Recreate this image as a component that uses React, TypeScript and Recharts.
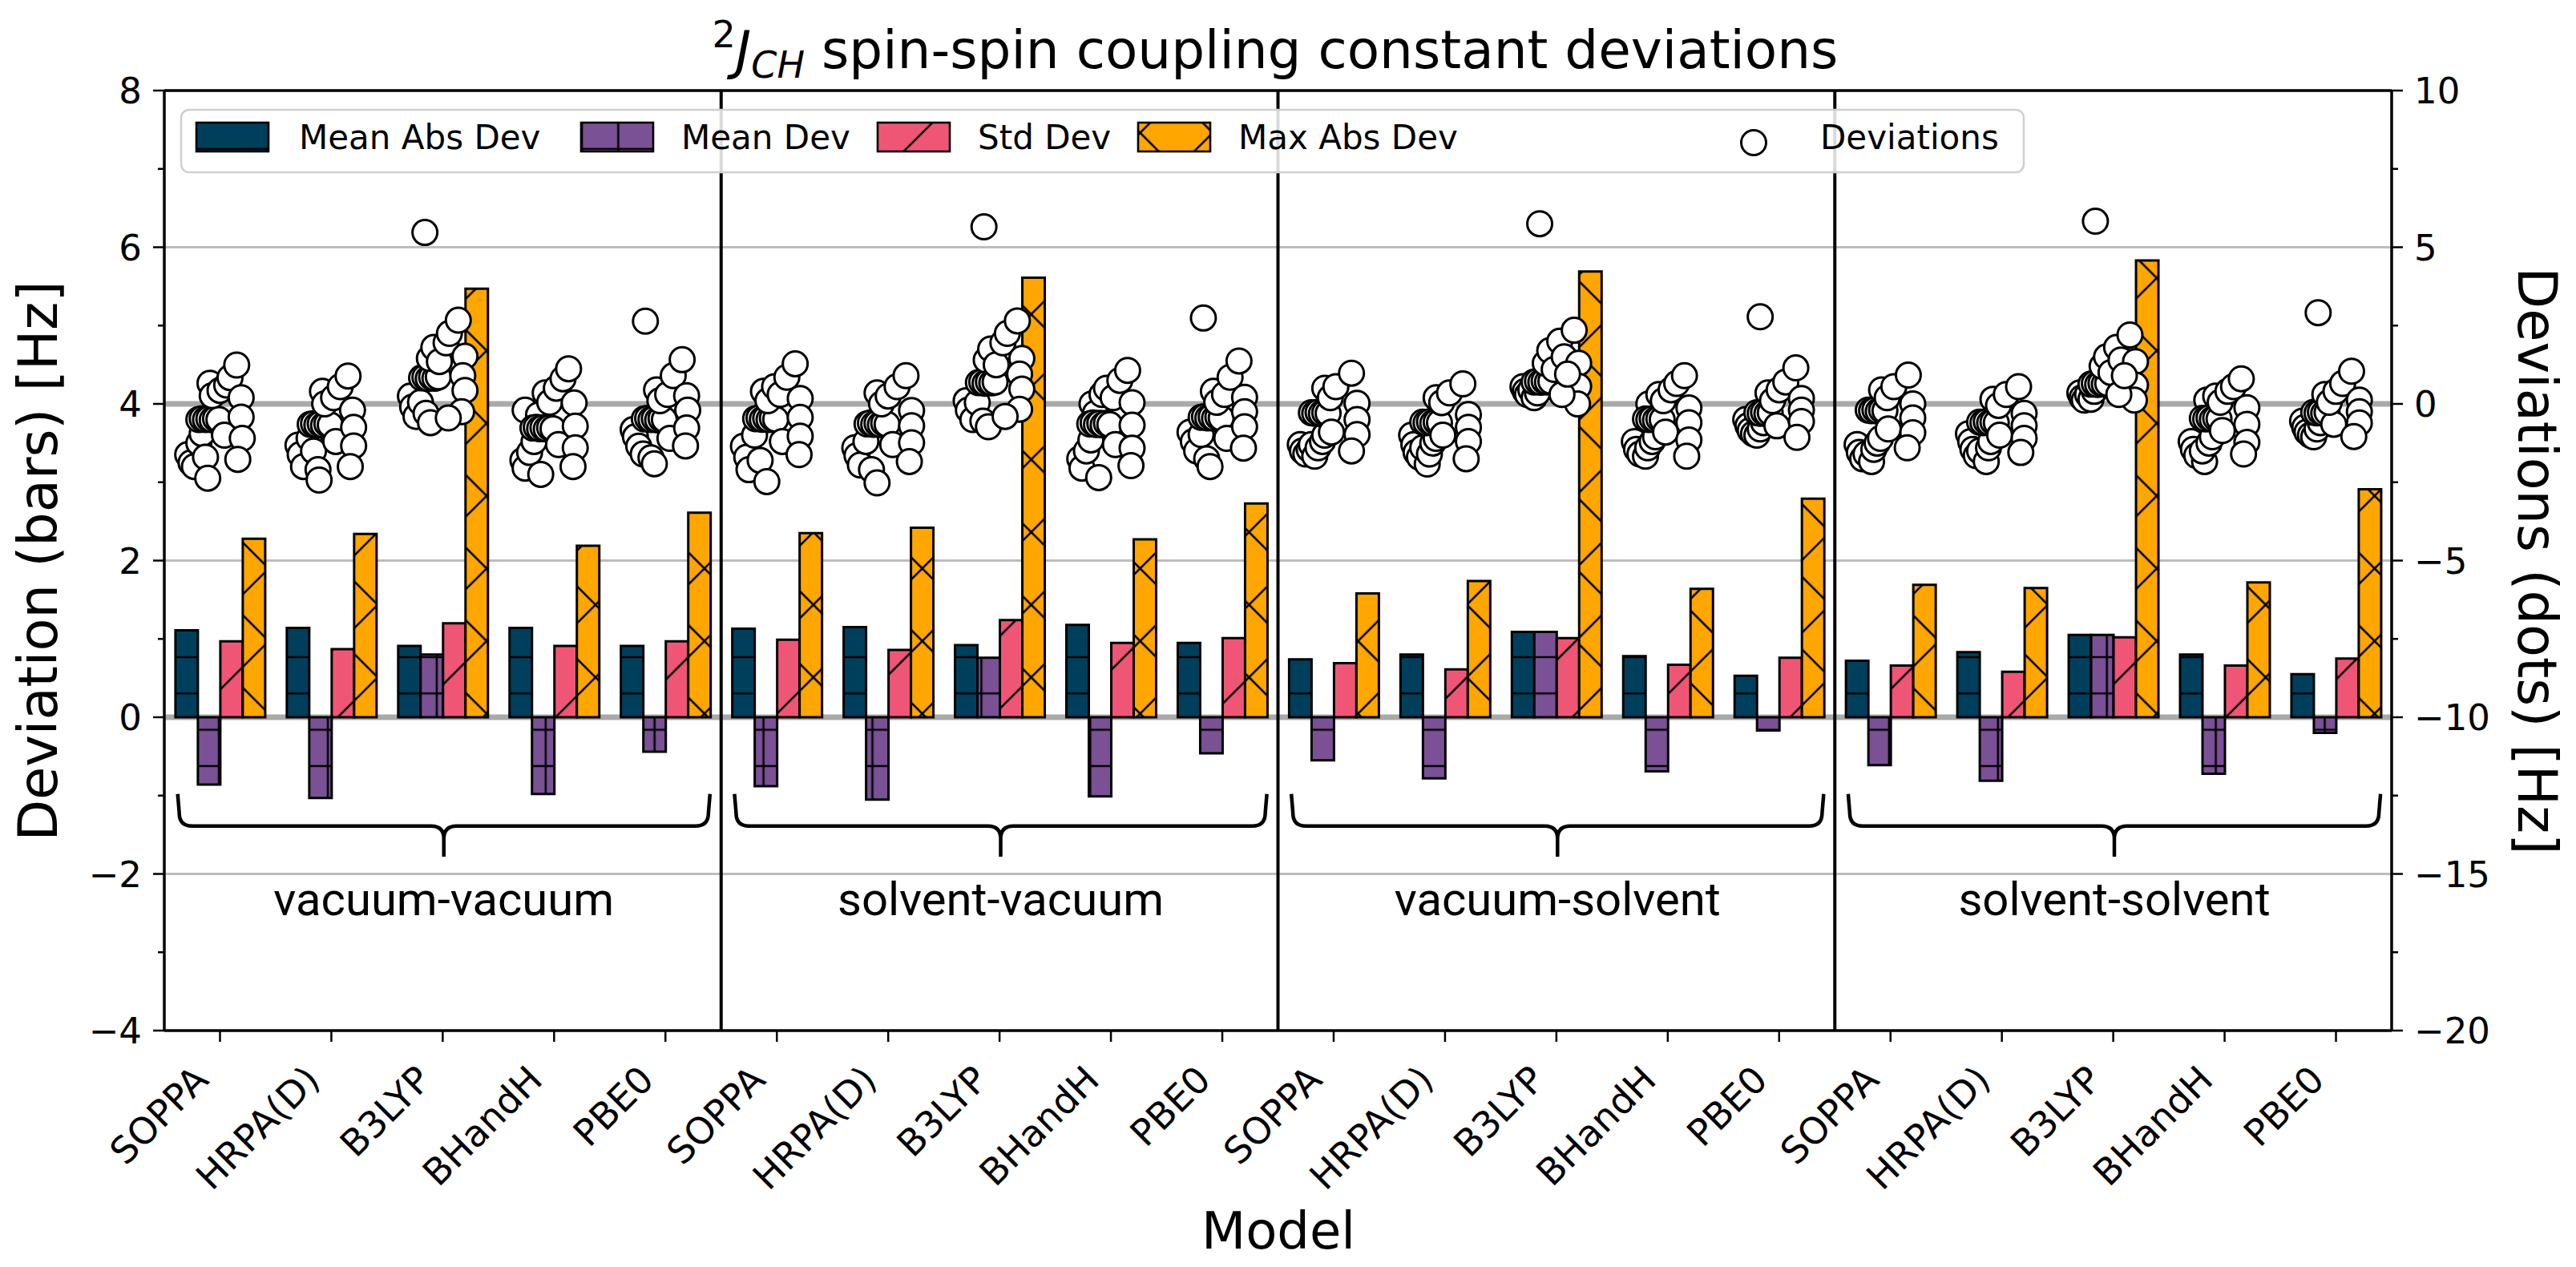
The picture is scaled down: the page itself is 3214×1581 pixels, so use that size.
import React from 'react';
import {
  ComposedChart,
  Bar,
  Scatter,
  XAxis,
  YAxis,
  ReferenceLine,
  ReferenceArea,
} from 'recharts';

// Five models, repeated for each of the four solvent set-ups
const models = ['SOPPA', 'HRPA(D)', 'B3LYP', 'BHandH', 'PBE0'];
const groups = ['vacuum-vacuum', 'solvent-vacuum', 'vacuum-solvent', 'solvent-solvent'];

// Bar series, left axis [Hz]
const meanAbsDev = [1.11, 1.14, 0.91, 1.14, 0.91, 1.13, 1.15, 0.92, 1.18, 0.95, 0.74, 0.8, 1.09, 0.78, 0.53, 0.72, 0.83, 1.05, 0.8, 0.55];
const meanDev = [-0.86, -1.03, 0.8, -0.98, -0.44, -0.88, -1.05, 0.76, -1.01, -0.46, -0.55, -0.78, 1.09, -0.69, -0.17, -0.61, -0.81, 1.05, -0.72, -0.2];
const stdDev = [0.97, 0.87, 1.2, 0.91, 0.97, 0.99, 0.86, 1.24, 0.95, 1.01, 0.69, 0.61, 1.01, 0.67, 0.76, 0.66, 0.58, 1.02, 0.66, 0.75];
const maxAbsDev = [2.28, 2.34, 5.47, 2.19, 2.61, 2.35, 2.42, 5.61, 2.27, 2.73, 1.58, 1.74, 5.69, 1.64, 2.79, 1.69, 1.65, 5.83, 1.72, 2.91];

// Dot series, right axis [Hz]: [offset from category centre, deviation]
const deviations: [number, number][][] = [
  // vacuum-vacuum
  [[-0.29, -1.62], [-0.26, -1.88], [-0.23, -2.0], [-0.19, -1.25], [-0.16, -0.95], [-0.13, -1.7], [-0.11, -2.37], [-0.19, -0.5], [-0.16, -0.47], [-0.13, -0.5], [-0.1, -0.48], [-0.07, -0.51], [-0.04, -0.47], [-0.01, -0.5], [-0.09, 0.66], [-0.07, 0.26], [0.0, 0.43], [0.04, -1.0], [0.06, 0.6], [0.09, 0.84], [0.15, 1.24], [0.19, 0.2], [0.19, -0.42], [0.2, -1.1], [0.16, -1.77]],
  [[-0.3, -1.32], [-0.28, -1.62], [-0.25, -2.0], [-0.2, -1.1], [-0.16, -1.5], [-0.12, -2.1], [-0.11, -2.43], [-0.19, -0.65], [-0.16, -0.63], [-0.13, -0.67], [-0.1, -0.64], [-0.07, -0.68], [-0.04, -0.64], [-0.01, -0.67], [-0.08, 0.4], [-0.06, 0.0], [0.02, 0.2], [0.04, -1.2], [0.08, 0.55], [0.15, 0.89], [0.19, -0.2], [0.2, -0.75], [0.2, -1.34], [0.17, -2.0]],
  [[-0.16, 5.47], [-0.29, 0.25], [-0.27, -0.1], [-0.24, -0.4], [-0.2, 0.05], [-0.15, -0.3], [-0.11, -0.6], [-0.19, 0.83], [-0.16, 0.85], [-0.13, 0.81], [-0.1, 0.85], [-0.07, 0.82], [-0.04, 0.86], [-0.12, 1.45], [-0.08, 1.8], [-0.03, 1.35], [0.03, 1.95], [0.06, 2.25], [0.14, 2.67], [0.2, 1.52], [0.18, 0.9], [0.2, 0.43], [0.17, -0.25], [0.05, -0.45]],
  [[-0.26, -0.2], [-0.28, -1.8], [-0.26, -2.05], [-0.22, -1.55], [-0.18, -1.2], [-0.12, -2.25], [-0.14, -0.35], [-0.19, -0.77], [-0.16, -0.75], [-0.13, -0.79], [-0.1, -0.76], [-0.07, -0.8], [-0.04, -0.76], [-0.01, -0.79], [-0.08, 0.35], [-0.04, 0.05], [0.02, 0.5], [0.04, -1.3], [0.08, 0.8], [0.13, 1.12], [0.18, 0.03], [0.19, -0.71], [0.19, -1.4], [0.17, -2.0]],
  [[-0.18, 2.64], [-0.29, -0.82], [-0.27, -1.05], [-0.24, -1.35], [-0.2, -1.6], [-0.13, -1.72], [-0.1, -1.91], [-0.19, -0.48], [-0.16, -0.46], [-0.13, -0.5], [-0.1, -0.47], [-0.07, -0.51], [-0.04, -0.47], [-0.01, -0.5], [-0.08, 0.45], [-0.05, 0.1], [0.02, 0.3], [0.04, -1.1], [0.07, 0.9], [0.15, 1.41], [0.19, 0.26], [0.2, -0.2], [0.19, -0.77], [0.18, -1.34]],
  // solvent-vacuum
  [[-0.3, -1.35], [-0.27, -1.7], [-0.25, -2.1], [-0.2, -1.0], [-0.15, -1.8], [-0.09, -2.48], [-0.19, -0.47], [-0.16, -0.45], [-0.13, -0.49], [-0.1, -0.46], [-0.07, -0.5], [-0.04, -0.46], [-0.01, -0.49], [-0.12, 0.4], [-0.08, 0.1], [-0.02, 0.55], [0.03, 0.3], [0.05, -1.2], [0.09, 0.85], [0.165, 1.28], [0.21, 0.17], [0.21, -0.43], [0.21, -1.03], [0.2, -1.62]],
  [[-0.3, -1.4], [-0.28, -1.65], [-0.25, -1.95], [-0.2, -1.2], [-0.15, -2.1], [-0.1, -2.52], [-0.19, -0.64], [-0.16, -0.61], [-0.13, -0.65], [-0.1, -0.62], [-0.07, -0.66], [-0.04, -0.62], [-0.01, -0.65], [-0.1, 0.35], [-0.06, 0.0], [0.0, 0.25], [0.04, -1.3], [0.08, 0.55], [0.16, 0.9], [0.21, -0.21], [0.21, -0.7], [0.21, -1.24], [0.19, -1.84]],
  [[-0.14, 5.65], [-0.3, 0.1], [-0.28, -0.2], [-0.24, -0.5], [-0.2, 0.04], [-0.15, -0.55], [-0.1, -0.73], [-0.19, 0.68], [-0.16, 0.7], [-0.13, 0.66], [-0.1, 0.7], [-0.07, 0.67], [-0.04, 0.7], [-0.12, 1.4], [-0.08, 1.75], [-0.03, 1.25], [0.03, 1.95], [0.07, 2.25], [0.16, 2.65], [0.2, 1.45], [0.18, 0.95], [0.2, 0.47], [0.18, -0.17], [0.05, -0.4]],
  [[-0.17, 0.0], [-0.28, -1.75], [-0.26, -2.05], [-0.22, -1.5], [-0.18, -1.15], [-0.11, -2.35], [-0.14, -0.3], [-0.19, -0.64], [-0.16, -0.61], [-0.13, -0.66], [-0.1, -0.62], [-0.07, -0.67], [-0.04, -0.62], [-0.01, -0.66], [-0.08, 0.3], [-0.04, 0.5], [0.02, 0.2], [0.04, -1.3], [0.08, 0.75], [0.15, 1.07], [0.19, 0.04], [0.19, -0.68], [0.19, -1.41], [0.18, -1.97]],
  [[-0.17, 2.74], [-0.29, -0.9], [-0.26, -1.2], [-0.23, -1.5], [-0.19, -0.98], [-0.14, -1.75], [-0.11, -2.0], [-0.19, -0.43], [-0.16, -0.41], [-0.13, -0.45], [-0.1, -0.42], [-0.07, -0.46], [-0.04, -0.42], [-0.01, -0.45], [-0.08, 0.4], [-0.05, 0.05], [0.02, 0.3], [0.04, -1.1], [0.07, 0.85], [0.15, 1.37], [0.2, 0.21], [0.2, -0.25], [0.2, -0.73], [0.19, -1.41]],
  // vacuum-solvent
  [[-0.3, -1.3], [-0.28, -1.5], [-0.25, -1.6], [-0.22, -1.45], [-0.2, -1.3], [-0.17, -1.67], [-0.14, -1.4], [-0.1, -1.2], [-0.08, -1.0], [-0.2, -0.28], [-0.17, -0.3], [-0.14, -0.27], [-0.11, -0.31], [-0.08, -0.28], [-0.05, -0.3], [-0.02, -0.9], [-0.08, 0.5], [-0.03, 0.2], [0.02, 0.55], [0.16, 0.98], [0.21, 0.02], [0.21, -0.5], [0.21, -0.98], [0.16, -1.5]],
  [[-0.3, -1.0], [-0.28, -1.3], [-0.26, -1.55], [-0.23, -1.7], [-0.2, -1.4], [-0.16, -1.92], [-0.14, -1.6], [-0.11, -1.25], [-0.08, -1.1], [-0.2, -0.58], [-0.17, -0.6], [-0.14, -0.57], [-0.11, -0.61], [-0.08, -0.58], [-0.05, -0.6], [-0.02, -1.0], [-0.08, 0.2], [-0.03, 0.04], [0.04, 0.35], [0.16, 0.64], [0.21, -0.34], [0.21, -0.75], [0.21, -1.2], [0.19, -1.75]],
  [[-0.15, 5.75], [-0.3, 0.55], [-0.28, 0.4], [-0.26, 0.3], [-0.23, 0.45], [-0.2, 0.2], [-0.17, 0.35], [-0.2, 0.7], [-0.17, 0.72], [-0.14, 0.69], [-0.11, 0.73], [-0.08, 0.7], [-0.05, 0.72], [-0.1, 1.3], [-0.06, 1.7], [-0.02, 1.1], [0.03, 2.0], [0.07, 1.5], [0.16, 2.35], [0.2, 1.3], [0.2, 0.56], [0.19, 0.0], [0.05, 0.3], [0.1, 0.95]],
  [[-0.17, 0.0], [-0.3, -1.2], [-0.28, -1.45], [-0.25, -1.6], [-0.2, -1.67], [-0.18, -1.4], [-0.14, -1.2], [-0.11, -1.05], [-0.2, -0.48], [-0.17, -0.5], [-0.14, -0.47], [-0.11, -0.51], [-0.08, -0.48], [-0.05, -0.5], [-0.02, -0.9], [-0.08, 0.3], [-0.04, 0.1], [0.03, 0.45], [0.08, 0.65], [0.15, 0.9], [0.19, -0.13], [0.19, -0.6], [0.19, -1.15], [0.17, -1.67]],
  [[-0.17, 2.78], [-0.3, -0.5], [-0.28, -0.7], [-0.26, -0.85], [-0.23, -0.95], [-0.2, -1.0], [-0.17, -0.8], [-0.14, -0.6], [-0.2, -0.28], [-0.17, -0.3], [-0.14, -0.27], [-0.11, -0.31], [-0.08, -0.28], [-0.02, -0.7], [-0.1, 0.35], [-0.06, 0.1], [0.0, 0.45], [0.06, 0.7], [0.15, 1.15], [0.2, 0.17], [0.2, -0.2], [0.2, -0.56], [0.16, -1.07]],
  // solvent-solvent
  [[-0.3, -1.3], [-0.28, -1.55], [-0.25, -1.75], [-0.22, -1.6], [-0.17, -1.84], [-0.15, -1.45], [-0.12, -1.25], [-0.09, -1.1], [-0.2, -0.2], [-0.17, -0.22], [-0.14, -0.19], [-0.11, -0.23], [-0.08, -0.2], [-0.05, -0.22], [-0.02, -0.8], [-0.08, 0.45], [-0.03, 0.2], [0.03, 0.55], [0.16, 0.92], [0.2, 0.0], [0.2, -0.45], [0.2, -0.92], [0.15, -1.4]],
  [[-0.3, -0.95], [-0.28, -1.2], [-0.26, -1.45], [-0.23, -1.65], [-0.2, -1.5], [-0.14, -1.84], [-0.12, -1.4], [-0.1, -1.2], [-0.2, -0.58], [-0.17, -0.6], [-0.14, -0.57], [-0.11, -0.61], [-0.08, -0.58], [-0.05, -0.6], [-0.02, -1.0], [-0.08, 0.15], [-0.03, -0.05], [0.04, 0.3], [0.15, 0.55], [0.2, -0.3], [0.2, -0.7], [0.2, -1.1], [0.17, -1.55]],
  [[-0.16, 5.83], [-0.3, 0.35], [-0.28, 0.2], [-0.26, 0.12], [-0.23, 0.3], [-0.2, 0.15], [-0.17, 0.4], [-0.2, 0.63], [-0.17, 0.65], [-0.14, 0.62], [-0.11, 0.66], [-0.08, 0.63], [-0.05, 0.65], [-0.1, 1.2], [-0.06, 1.5], [-0.02, 1.0], [0.03, 1.8], [0.07, 1.4], [0.15, 2.2], [0.2, 1.35], [0.2, 0.6], [0.19, 0.12], [0.05, 0.3], [0.1, 0.9]],
  [[-0.16, 0.12], [-0.3, -1.2], [-0.28, -1.45], [-0.25, -1.65], [-0.18, -1.84], [-0.2, -1.5], [-0.14, -1.25], [-0.11, -1.05], [-0.2, -0.46], [-0.17, -0.48], [-0.14, -0.45], [-0.11, -0.49], [-0.08, -0.46], [-0.05, -0.48], [-0.02, -0.85], [-0.08, 0.25], [-0.04, 0.05], [0.03, 0.4], [0.08, 0.55], [0.15, 0.8], [0.2, -0.12], [0.2, -0.65], [0.2, -1.23], [0.17, -1.6]],
  [[-0.16, 2.91], [-0.3, -0.55], [-0.28, -0.75], [-0.26, -0.9], [-0.23, -1.0], [-0.2, -1.05], [-0.17, -0.8], [-0.14, -0.6], [-0.2, -0.27], [-0.17, -0.29], [-0.14, -0.26], [-0.11, -0.3], [-0.08, -0.27], [-0.02, -0.65], [-0.1, 0.3], [-0.06, 0.05], [0.0, 0.4], [0.06, 0.65], [0.14, 1.04], [0.21, 0.12], [0.21, -0.25], [0.21, -0.61], [0.16, -1.04]],
];

// Axis ticks
const leftTicks = [8, 7, 6, 5, 4, 3, 2, 1, 0, -1, -2, -3, -4];
const leftLabels = [8, 6, 4, 2, 0, -2, -4];
const rightTicks = [10, 7.5, 5, 2.5, 0, -2.5, -5, -7.5, -10, -12.5, -15, -17.5, -20];
const rightLabels = [10, 5, 0, -5, -10, -15, -20];
const gridThin = [6, 2, -2];
const gridThick = [4, 0];
const separators = [4.5, 9.5, 14.5];
const braceFrom = [-0.38, 4.62, 9.62, 14.62];
const braceTo = [4.4, 9.4, 14.4, 19.4];
const braceTop = -0.98;
const braceTip = -1.78;

const COLORS = { mad: '#003f5c', md: '#7a5195', std: '#ef5675', max: '#ffa600' };
const FONT = 'DejaVu Sans';
const NOTE_FONT = 'Roboto';

const categories = groups.flatMap(() => models);
const barData = categories.map((name, i) => ({
  name,
  mad: meanAbsDev[i],
  md: meanDev[i],
  std: stdDev[i],
  max: maxAbsDev[i],
}));
const dotData = deviations.flatMap((pts, i) => pts.map(([dx, v]) => ({ x: i + dx, y: v })));

const fmt = (v: number) => (v < 0 ? '\u2212' + Math.abs(v) : String(v));

// hatch spacing (px)
const P = 45.3;
const D = 90.6;

function Hatches() {
  return (
    <defs>
      <pattern id="hatch-mad" patternUnits="userSpaceOnUse" x={0} y={4.6 - P / 2} width={P} height={P}>
        <rect width={P} height={P} fill={COLORS.mad} />
        <line x1={0} x2={P} y1={P / 2} y2={P / 2} stroke="#000" strokeWidth={2.6} />
      </pattern>
      <pattern id="hatch-md" patternUnits="userSpaceOnUse" x={1.3 - P / 2} y={4.6 - P / 2} width={P} height={P}>
        <rect width={P} height={P} fill={COLORS.md} />
        <line x1={0} x2={P} y1={P / 2} y2={P / 2} stroke="#000" strokeWidth={2.6} />
        <line x1={P / 2} x2={P / 2} y1={0} y2={P} stroke="#000" strokeWidth={2.6} />
      </pattern>
      <pattern id="hatch-std" patternUnits="userSpaceOnUse" x={48} y={0} width={D} height={D}>
        <rect width={D} height={D} fill={COLORS.std} />
        <path
          d={`M-6,${D + 6} L${D + 6},-6 M-6,6 L6,-6 M${D - 6},${D + 6} L${D + 6},${D - 6}`}
          stroke="#000"
          strokeWidth={2.6}
        />
      </pattern>
      <pattern id="hatch-max" patternUnits="userSpaceOnUse" x={48} y={0} width={D} height={D}>
        <rect width={D} height={D} fill={COLORS.max} />
        <path
          d={`M-6,${D + 6} L${D + 6},-6 M-6,6 L6,-6 M${D - 6},${D + 6} L${D + 6},${D - 6} M25,-6 L${D + 6},${D - 25} M-6,${D - 37} L37,${D + 6}`}
          stroke="#000"
          strokeWidth={2.6}
        />
      </pattern>
    </defs>
  );
}

function LeftTick(props: any) {
  const { x, y, payload } = props;
  const major = leftLabels.includes(payload.value);
  return (
    <g>
      <line x1={x - (major ? 14 : 8)} x2={x} y1={y} y2={y} stroke="#000" strokeWidth={2.5} />
      {major && (
        <text x={x - 28} y={y} dy="0.36em" textAnchor="end" fontFamily={FONT} fontSize={45} fill="#000">
          {fmt(payload.value)}
        </text>
      )}
    </g>
  );
}

function RightTick(props: any) {
  const { x, y, payload } = props;
  const major = rightLabels.includes(payload.value);
  return (
    <g>
      <line x1={x} x2={x + (major ? 14 : 8)} y1={y} y2={y} stroke="#000" strokeWidth={2.5} />
      {major && (
        <text x={x + 28} y={y} dy="0.36em" textAnchor="start" fontFamily={FONT} fontSize={45} fill="#000">
          {fmt(payload.value)}
        </text>
      )}
    </g>
  );
}

function BottomTick(props: any) {
  const { x, y, payload } = props;
  return (
    <g>
      <line x1={x} x2={x} y1={y} y2={y + 14} stroke="#000" strokeWidth={2.5} />
      <text
        transform={`translate(${x - 12}, ${y + 64}) rotate(-45)`}
        textAnchor="end"
        fontFamily={FONT}
        fontSize={46}
        fill="#000"
      >
        {payload.value}
      </text>
    </g>
  );
}

function Brace(props: any) {
  const { x, y, width, height, label } = props;
  const x2 = x + width;
  const mid = y + height * 0.51;
  const cx = x + width / 2;
  const r = 16;
  const d =
    `M${x},${y} L${x + 2},${mid - r} Q${x + 2},${mid} ${x + 2 + r},${mid} L${cx - r},${mid} ` +
    `Q${cx},${mid} ${cx},${mid + r} L${cx},${y + height} ` +
    `M${x2},${y} L${x2 - 2},${mid - r} Q${x2 - 2},${mid} ${x2 - 2 - r},${mid} L${cx + r},${mid} ` +
    `Q${cx},${mid} ${cx},${mid + r}`;
  return (
    <g>
      <path d={d} fill="none" stroke="#000" strokeWidth={4.5} strokeLinejoin="round" />
      <text x={cx} y={y + height + 73} textAnchor="middle" fontFamily={NOTE_FONT} fontSize={58} fill="#000">
        {label}
      </text>
    </g>
  );
}

function Dot(props: any) {
  const { cx, cy } = props;
  if (cx == null || cy == null) return null;
  return <circle cx={cx} cy={cy} r={15.5} fill="#fff" stroke="#000" strokeWidth={3} />;
}

const legendItems = [
  { label: 'Mean Abs Dev', fill: 'url(#hatch-mad)', px: 245, tx: 373 },
  { label: 'Mean Dev', fill: 'url(#hatch-md)', px: 725, tx: 850 },
  { label: 'Std Dev', fill: 'url(#hatch-std)', px: 1095, tx: 1220 },
  { label: 'Max Abs Dev', fill: 'url(#hatch-max)', px: 1420, tx: 1545 },
];

function Overlay() {
  return (
    <svg
      width={3214}
      height={1581}
      style={{ position: 'absolute', left: 0, top: 0, pointerEvents: 'none' }}
    >
      <Hatches />
      {/* title */}
      <text x={1591} y={85} textAnchor="middle" fontFamily={FONT} fontSize={66} fill="#000" style={{ whiteSpace: 'pre' }}>
        <tspan fontSize={46} dy={-26}>2</tspan>
        <tspan fontStyle="italic" dy={26}>J</tspan>
        <tspan fontStyle="italic" fontSize={46} dy={12}>CH</tspan>
        <tspan dy={-12}> spin-spin coupling constant deviations</tspan>
      </text>
      {/* axis titles */}
      <text transform="translate(71, 700) rotate(-90)" textAnchor="middle" fontFamily={FONT} fontSize={67} fill="#000">
        Deviation (bars) [Hz]
      </text>
      <text transform="translate(3142, 700) rotate(90)" textAnchor="middle" fontFamily={FONT} fontSize={67} fill="#000">
        Deviations (dots) [Hz]
      </text>
      <text x={1595} y={1558} textAnchor="middle" fontFamily={FONT} fontSize={64} fill="#000">
        Model
      </text>
      {/* legend */}
      <rect x={226} y={137} width={2299} height={78} rx={10} fill="#fff" fillOpacity={0.85} stroke="#d0d0d0" strokeWidth={2.5} />
      {legendItems.map((it) => (
        <g key={it.label}>
          <rect x={it.px} y={153} width={90} height={36} fill={it.fill} stroke="#000" strokeWidth={2.6} />
          <text x={it.tx} y={186} fontFamily={FONT} fontSize={42} fill="#000">
            {it.label}
          </text>
        </g>
      ))}
      <circle cx={2188} cy={178} r={15.5} fill="#fff" stroke="#000" strokeWidth={3} />
      <text x={2271} y={186} fontFamily={FONT} fontSize={42} fill="#000">
        Deviations
      </text>
    </svg>
  );
}

export default function App() {
  return (
    <div style={{ position: 'absolute', left: 0, top: 0, width: 3214, height: 1581, background: '#fff' }}>
      <ComposedChart
        width={3214}
        height={1581}
        data={barData}
        margin={{ top: 113, right: 110, bottom: 175, left: 85 }}
        barCategoryGap="10%"
        barGap={0}
      >
        <XAxis
          xAxisId="cat"
          dataKey="name"
          interval={0}
          height={120}
          tickSize={0}
          tickMargin={0}
          tickLine={false}
          tick={<BottomTick />}
          axisLine={{ stroke: '#000', strokeWidth: 3.5 }}
        />
        <XAxis xAxisId="num" type="number" dataKey="x" domain={[-0.5, 19.5]} allowDataOverflow hide />
        <YAxis
          yAxisId="left"
          type="number"
          domain={[-4, 8]}
          ticks={leftTicks}
          interval={0}
          allowDataOverflow
          width={120}
          tickSize={0}
          tickMargin={0}
          tickLine={false}
          tick={<LeftTick />}
          axisLine={{ stroke: '#000', strokeWidth: 3.5 }}
        />
        <YAxis
          yAxisId="right"
          orientation="right"
          type="number"
          domain={[-20, 10]}
          ticks={rightTicks}
          interval={0}
          allowDataOverflow
          width={120}
          tickSize={0}
          tickMargin={0}
          tickLine={false}
          tick={<RightTick />}
          axisLine={{ stroke: '#000', strokeWidth: 3.5 }}
        />

        {gridThin.map((v) => (
          <ReferenceLine key={'g' + v} xAxisId="cat" yAxisId="left" y={v} stroke="#bdbdbd" strokeWidth={3} zIndex={-100} />
        ))}
        {gridThick.map((v) => (
          <ReferenceLine key={'t' + v} xAxisId="cat" yAxisId="left" y={v} stroke="#a9a9a9" strokeWidth={7} zIndex={-100} />
        ))}
        <ReferenceLine xAxisId="cat" yAxisId="left" y={8} stroke="#000" strokeWidth={3.5} />
        {separators.map((v) => (
          <ReferenceLine key={'s' + v} xAxisId="num" yAxisId="left" x={v} stroke="#000" strokeWidth={4} />
        ))}
        {groups.map((g, i) => (
          <ReferenceArea
            key={g}
            xAxisId="num"
            yAxisId="left"
            x1={braceFrom[i]}
            x2={braceTo[i]}
            y1={braceTop}
            y2={braceTip}
            shape={(p: any) => <Brace {...p} label={g} />}
          />
        ))}

        <Bar xAxisId="cat" yAxisId="left" dataKey="mad" name="Mean Abs Dev" fill="url(#hatch-mad)" stroke="#000" strokeWidth={3} isAnimationActive={false} />
        <Bar xAxisId="cat" yAxisId="left" dataKey="md" name="Mean Dev" fill="url(#hatch-md)" stroke="#000" strokeWidth={3} isAnimationActive={false} />
        <Bar xAxisId="cat" yAxisId="left" dataKey="std" name="Std Dev" fill="url(#hatch-std)" stroke="#000" strokeWidth={3} isAnimationActive={false} />
        <Bar xAxisId="cat" yAxisId="left" dataKey="max" name="Max Abs Dev" fill="url(#hatch-max)" stroke="#000" strokeWidth={3} isAnimationActive={false} />

        <Scatter
          xAxisId="num"
          yAxisId="right"
          data={dotData}
          dataKey="y"
          name="Deviations"
          shape={<Dot />}
          isAnimationActive={false}
        />
      </ComposedChart>
      <Overlay />
    </div>
  );
}
